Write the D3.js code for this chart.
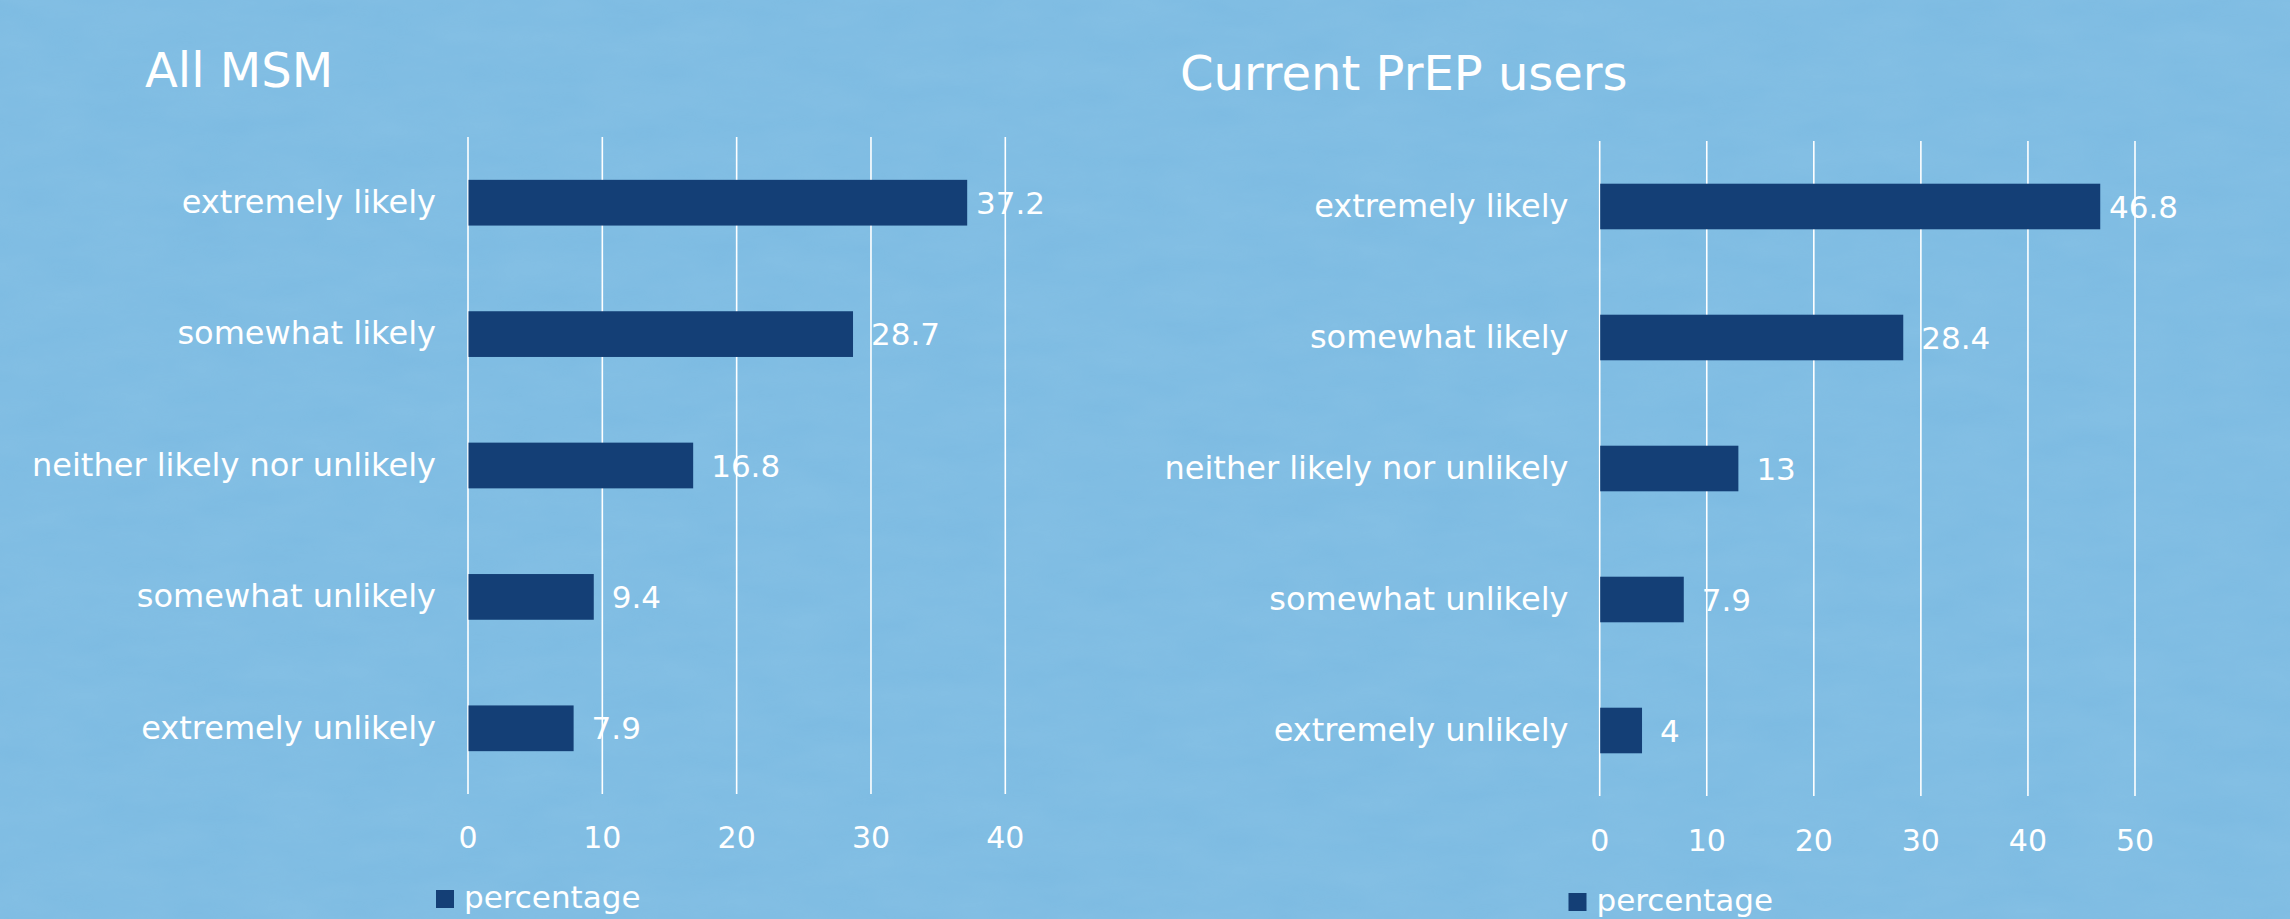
<!DOCTYPE html>
<html>
<head>
<meta charset="utf-8">
<title>Likelihood - All MSM vs Current PrEP users</title>
<script src="https://cdn.jsdelivr.net/npm/d3@7"></script>
<style>
body { margin: 0; background: #7dbbe2; }
svg { display: block; }
text { font-family: "DejaVu Sans", Verdana, sans-serif; fill: #ffffff; }
.grid line { stroke: #ffffff; stroke-width: 1.6; }
</style>
</head>
<body>
<script>

// data
var categories = ["extremely likely", "somewhat likely", "neither likely nor unlikely", "somewhat unlikely", "extremely unlikely"];
var allMsmValues = [37.2, 28.7, 16.8, 9.4, 7.9];
var prepUserValues = [46.8, 28.4, 13, 7.9, 4];
var allMsmTicks = [0, 10, 20, 30, 40];
var prepUserTicks = [0, 10, 20, 30, 40, 50];
var seriesName = "percentage";

var width = 2290, height = 919;
var barColor = "#143f76";

var svg = d3.select("body").append("svg")
  .attr("width", width)
  .attr("height", height);

// paper-ish texture
var defs = svg.append("defs");
var filter = defs.append("filter").attr("id", "paper")
  .attr("x", 0).attr("y", 0).attr("width", "100%").attr("height", "100%");
filter.append("feTurbulence")
  .attr("type", "fractalNoise")
  .attr("baseFrequency", "0.012 0.035")
  .attr("numOctaves", 4)
  .attr("seed", 7);
filter.append("feColorMatrix")
  .attr("type", "matrix")
  .attr("values", "0 0 0 0 0.45  0 0 0 0 0.72  0 0 0 0 0.9  0 0 0 0.35 0");

svg.append("rect").attr("width", width).attr("height", height).attr("fill", "#7dbbe2");
svg.append("rect").attr("width", width).attr("height", height)
  .attr("filter", "url(#paper)").attr("opacity", 0.4);

function drawPanel(opt) {
  var g = svg.append("g");

  var x = d3.scaleLinear()
    .domain([0, opt.ticks[opt.ticks.length - 1]])
    .range([opt.left, opt.right]);

  var y = d3.scaleBand()
    .domain(categories)
    .range([opt.top, opt.bottom])
    .paddingInner(0.652)
    .paddingOuter(0.326);

  // title
  g.append("text")
    .attr("x", opt.titleX)
    .attr("y", opt.titleY)
    .style("font-size", "48px")
    .text(opt.title);

  // gridlines + tick labels
  var xAxis = g.append("g")
    .attr("class", "grid")
    .attr("transform", "translate(0," + opt.bottom + ")")
    .call(d3.axisBottom(x)
      .tickValues(opt.ticks)
      .tickFormat(d3.format("d"))
      .tickSize(-(opt.bottom - opt.top)));
  xAxis.select(".domain").remove();
  xAxis.selectAll("text")
    .attr("y", opt.tickLabelY)
    .attr("dy", 0)
    .style("font-size", "30px")
    .style("font-family", "'DejaVu Sans', Verdana, sans-serif")
    .attr("fill", "#ffffff");

  // category labels
  var yAxis = g.append("g")
    .attr("transform", "translate(" + opt.left + ",0)")
    .call(d3.axisLeft(y).tickSize(0).tickPadding(opt.left - opt.labelRight));
  yAxis.select(".domain").remove();
  yAxis.selectAll("text")
    .style("font-size", "32px")
    .style("font-family", "'DejaVu Sans', Verdana, sans-serif")
    .attr("fill", "#ffffff");

  // bars
  g.append("g").selectAll("rect")
    .data(opt.values)
    .enter().append("rect")
    .attr("x", x(0) + 1)
    .attr("y", function(d, i) { return y(categories[i]); })
    .attr("width", function(d) { return x(d) - x(0) - 1; })
    .attr("height", y.bandwidth())
    .attr("fill", barColor);

  // value labels (pushed back inside when they would run past the plot edge)
  g.append("g").selectAll("text")
    .data(opt.values)
    .enter().append("text")
    .attr("y", function(d, i) { return y(categories[i]) + y.bandwidth() / 2; })
    .attr("dy", "0.36em")
    .style("font-size", "31px")
    .text(function(d) { return d; })
    .attr("x", function(d) {
      var w = this.getComputedTextLength();
      return Math.min(x(d) + 18, opt.labelLimit - w);
    });

  // legend
  var lg = g.append("g").attr("transform", "translate(" + opt.legendX + "," + opt.legendY + ")");
  lg.append("rect")
    .attr("x", 0).attr("y", -18)
    .attr("width", 18).attr("height", 18)
    .attr("fill", barColor);
  lg.append("text")
    .attr("x", 28).attr("y", 0)
    .style("font-size", "31px")
    .text(seriesName);
}

drawPanel({
  title: "All MSM", titleX: 145, titleY: 87,
  values: allMsmValues, ticks: allMsmTicks,
  left: 467.5, right: 1004.8, top: 137, bottom: 794,
  labelRight: 436, tickLabelY: 54, labelLimit: 1045,
  legendX: 436, legendY: 908
});

drawPanel({
  title: "Current PrEP users", titleX: 1180, titleY: 90,
  values: prepUserValues, ticks: prepUserTicks,
  left: 1599.2, right: 2134.5, top: 141, bottom: 796,
  labelRight: 1568.5, tickLabelY: 55, labelLimit: 2178,
  legendX: 1568.5, legendY: 911
});

</script>
</body>
</html>
